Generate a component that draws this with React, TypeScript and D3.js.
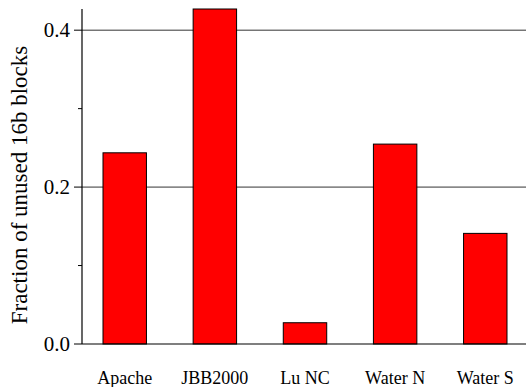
import React from 'react'
import * as d3 from 'd3'

const categories = ['Apache', 'JBB2000', 'Lu NC', 'Water N', 'Water S']
const values = [0.2437, 0.427, 0.0271, 0.2548, 0.141]
const majorTicks = [0, 0.2, 0.4]
const minorTicks = [0.1, 0.3]
const yTitle = 'Fraction of unused 16b blocks'

const width = 526
const height = 387
const left = 82
const top = 9
const bottom = 344
const fontStyle = { fontFamily: 'Liberation Serif' }

export default function App() {
  const x = d3.scaleBand<string>()
    .domain(categories)
    .range([left, 528])
    .paddingInner(0.518)
    .paddingOuter(0.233)
    .align(0.5)
  const y = d3.scaleLinear().domain([0, 0.427]).range([bottom, top])

  return (
    <svg width={width} height={height} style={{ position: 'absolute', left: 0, top: 0 }}>
      {majorTicks.filter(t => t > 0).map(t => (
        <line key={`g${t}`} x1={left} x2={width} y1={y(t)} y2={y(t)} stroke="#333" strokeWidth={1} />
      ))}
      {categories.map((c, i) => (
        <rect key={c} x={x(c)} y={y(values[i])} width={x.bandwidth()} height={bottom - y(values[i])}
          fill="#ff0000" stroke="#000" strokeWidth={1} />
      ))}
      <line x1={left} x2={width} y1={bottom} y2={bottom} stroke="#000" strokeWidth={1.2} />
      <line x1={left} x2={left} y1={top} y2={bottom} stroke="#000" strokeWidth={1.2} />
      {majorTicks.map(t => (
        <g key={`t${t}`}>
          <line x1={74} x2={left} y1={y(t)} y2={y(t)} stroke="#000" />
          <text x={70} y={y(t)} dy="0.34em" textAnchor="end" fontSize={21} style={fontStyle}>{d3.format('.1f')(t)}</text>
        </g>
      ))}
      {minorTicks.map(t => (
        <line key={`m${t}`} x1={78} x2={left} y1={y(t)} y2={y(t)} stroke="#000" />
      ))}
      {categories.map(c => (
        <text key={`l${c}`} x={(x(c) ?? 0) + x.bandwidth() / 2} y={384} textAnchor="middle" fontSize={18} style={fontStyle}>{c}</text>
      ))}
      <text transform={`translate(26.5,185) rotate(-90)`} textAnchor="middle" fontSize={23} style={fontStyle}>{yTitle}</text>
    </svg>
  )
}
